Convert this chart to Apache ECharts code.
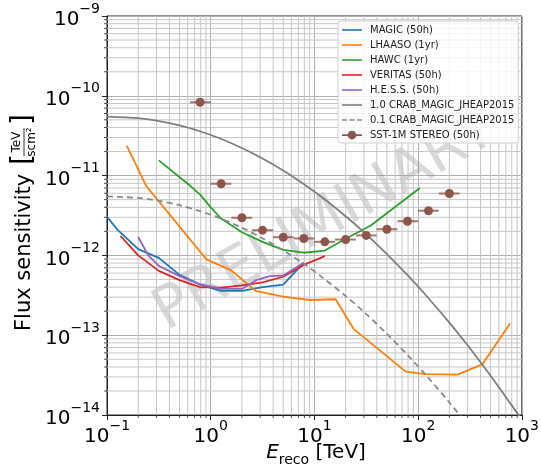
<!DOCTYPE html>
<html>
<head>
<meta charset="utf-8">
<script src="https://cdn.jsdelivr.net/npm/echarts@6/dist/echarts.min.js"></script>
<style>
  html, body { margin: 0; padding: 0; background: #fff; }
  #chart { width: 542px; height: 465px; }
</style>
</head>
<body>
<div id="chart"></div>
<script>
var FONT = 'DejaVu Sans';

// E [TeV] and flux sensitivity [TeV s^-1 cm^-2]
var magicE = [0.1, 0.126, 0.2, 0.316, 0.5, 0.79, 1.26, 2.0, 3.16, 5.0, 7.9];
var magicF = [3.05e-12, 2.1e-12, 1.2e-12, 9.3e-13, 5.7e-13, 4.3e-13, 3.6e-13, 3.6e-13, 4.0e-13, 4.3e-13, 8.1e-13];

var lhaasoE = [0.155, 0.24, 0.91, 1.58, 2.7, 5.0, 9.0, 16, 24, 76, 118, 240, 415, 770];
var lhaasoF = [2.37e-11, 7.35e-12, 8.9e-13, 6.5e-13, 3.6e-13, 3.05e-13, 2.76e-13, 2.82e-13, 1.19e-13, 3.5e-14, 3.25e-14, 3.2e-14, 4.3e-14, 1.4e-13];

var hawcE = [0.316, 0.63, 0.8, 1.0, 1.26, 2.0, 3.16, 5.0, 7.9, 12.6, 20, 35, 104];
var hawcF = [1.55e-11, 7.5e-12, 5.7e-12, 4.0e-12, 2.9e-12, 1.95e-12, 1.48e-12, 1.17e-12, 1.08e-12, 1.15e-12, 1.62e-12, 2.37e-12, 7.0e-12];

var veritasE = [0.135, 0.2, 0.316, 0.5, 0.79, 1.26, 2.0, 3.16, 5.0, 7.9, 12.6];
var veritasF = [1.75e-12, 1.0e-12, 6.4e-13, 4.9e-13, 4.0e-13, 3.95e-13, 4.2e-13, 4.6e-13, 5.4e-13, 7.6e-13, 9.8e-13];

var hessE = [0.2, 0.25, 0.316, 0.5, 0.79, 1.26, 2.0, 2.75, 3.7, 5.0, 7.9];
var hessF = [1.7e-12, 1.0e-12, 7.4e-13, 5.5e-13, 4.35e-13, 3.8e-13, 3.8e-13, 4.9e-13, 5.5e-13, 5.6e-13, 8.1e-13];

var crabE = [0.1, 0.2, 0.3, 0.5, 0.8, 1.2, 2, 3, 5, 8, 12, 20, 30, 50, 80, 120, 200, 300, 500, 800, 1000];
var crabF = [5.49e-11, 5.25e-11, 4.89e-11, 4.26e-11, 3.57e-11, 2.96e-11, 2.22e-11, 1.70e-11, 1.16e-11, 7.75e-12, 5.27e-12,
             3.1e-12, 1.96e-12, 1.04e-12, 5.56e-13, 3.12e-13, 1.44e-13, 7.47e-14, 3.1e-14, 1.32e-14, 8.7e-15];
var crab01F = [5.49e-12, 5.25e-12, 4.89e-12, 4.26e-12, 3.57e-12, 2.96e-12, 2.22e-12, 1.70e-12, 1.16e-12, 7.75e-13, 5.27e-13,
               3.1e-13, 1.96e-13, 1.04e-13, 5.56e-14, 3.12e-14, 1.44e-14, 7.47e-15, 3.1e-15, 1.32e-15, 8.7e-16];

// SST-1M stereo: bin centre, bin edges, flux
var sstE  = [0.79, 1.26, 2.0, 3.16, 5.0, 7.9, 12.6, 20, 31.6, 50, 79, 126, 200];
var sstLo = [0.63, 1.0, 1.58, 2.51, 3.98, 6.31, 10, 15.8, 25.1, 39.8, 63.1, 100, 158];
var sstHi = [1.0, 1.58, 2.51, 3.98, 6.31, 10, 15.8, 25.1, 39.8, 63.1, 100, 158, 251];
var sstF  = [8.3e-11, 7.9e-12, 2.96e-12, 2.07e-12, 1.69e-12, 1.63e-12, 1.48e-12, 1.58e-12, 1.78e-12, 2.13e-12, 2.68e-12, 3.63e-12, 5.96e-12];

var names = ['MAGIC (50h)', 'LHAASO (1yr)', 'HAWC (1yr)', 'VERITAS (50h)', 'H.E.S.S. (50h)',
             '1.0 CRAB_MAGIC_JHEAP2015', '0.1 CRAB_MAGIC_JHEAP2015', 'SST-1M STEREO (50h)'];

var X_MIN = 0.1, X_MAX = 1000, Y_MIN = 1e-14, Y_MAX = 1e-9;

function pairs(xs, ys) {
    return xs.map(function(x, i) { return [x, ys[i]]; });
}

// "10^n" tick labels
function powLabel(v) {
    var e = Math.round(Math.log10(v));
    return '{b|10}{s|' + (e < 0 ? '\u2212' + (-e) : e) + '}';
}
var powRich = {
    b: { fontSize: 20, fontFamily: FONT, color: '#000', lineHeight: 28, verticalAlign: 'bottom' },
    s: { fontSize: 14, fontFamily: FONT, color: '#000', lineHeight: 16, verticalAlign: 'top' }
};

// minor grid positions 2..9 x 10^n ; [x, y, kind] kind 0 = vertical, 1 = horizontal
function minorGrid() {
    var out = [], d, k;
    for (d = -1; d <= 2; d++)
        for (k = 2; k <= 9; k++) out.push([k * Math.pow(10, d), 1e-12, 0]);
    for (d = -14; d <= -10; d++)
        for (k = 2; k <= 9; k++) out.push([1, k * Math.pow(10, d), 1]);
    return out;
}

function lineSeries(name, xs, ys, color, dashed, smooth) {
    return {
        name: name, type: 'line', data: pairs(xs, ys),
        symbol: 'none', showSymbol: false, symbolSize: 0, z: 4,
        smooth: smooth ? 0.3 : false,
        lineStyle: { color: color, width: 1.8, type: dashed ? [6, 4] : 'solid' },
        itemStyle: { color: color }
    };
}

var myChart = echarts.init(document.getElementById('chart'), null, { renderer: 'canvas' });

var lineIcon = 'path://M0,4.2 L20,4.2 L20,5.8 L0,5.8 Z';
var dashIcon = 'path://M0,4.2 L5,4.2 L5,5.8 L0,5.8 Z M7.5,4.2 L12.5,4.2 L12.5,5.8 L7.5,5.8 Z M15,4.2 L20,4.2 L20,5.8 L15,5.8 Z';
var sstIcon = 'path://M2,4.3 L18,4.3 L18,5.7 L2,5.7 Z M6.5,5 A3.5,3.5 0 1 1 13.5,5 A3.5,3.5 0 1 1 6.5,5 Z';

var option = {
    animation: false,
    backgroundColor: '#fff',
    grid: { left: 107, right: 19, top: 16, bottom: 50, show: true, borderColor: '#222', borderWidth: 1 },
    xAxis: {
        type: 'log', logBase: 10, min: X_MIN, max: X_MAX,
        axisLine: { show: true, lineStyle: { color: '#222' } },
        axisTick: { show: true, length: 5, lineStyle: { color: '#222' } },
        axisLabel: { formatter: powLabel, rich: powRich, margin: 4 },
        splitLine: { show: true, lineStyle: { color: '#b0b0b0', width: 1 } }
    },
    yAxis: {
        type: 'log', logBase: 10, min: Y_MIN, max: Y_MAX,
        axisLine: { show: true, lineStyle: { color: '#222' } },
        axisTick: { show: true, length: 5, lineStyle: { color: '#222' } },
        axisLabel: { formatter: powLabel, rich: powRich, margin: 7 },
        splitLine: { show: true, lineStyle: { color: '#b0b0b0', width: 1 } }
    },
    legend: {
        orient: 'vertical', left: 338, top: 21,
        padding: [4, 4, 3, 4], itemGap: 5, itemWidth: 20, itemHeight: 10,
        backgroundColor: 'rgba(255,255,255,0.8)', borderColor: '#d0d0d0', borderWidth: 1, borderRadius: 3,
        textStyle: { fontFamily: FONT, fontSize: 10, color: '#222', padding: [0, 0, 0, 3] },
        data: names.map(function(n, i) {
            return { name: n, icon: i === 7 ? sstIcon : (i === 6 ? dashIcon : lineIcon) };
        }),
        z: 10
    },
    graphic: [
        {
            type: 'text', x: 325, y: 222, rotation: 30 * Math.PI / 180, z: 1, silent: true,
            style: { text: 'PRELIMINARY', fontSize: 58, fontFamily: FONT, fill: 'rgba(128,128,128,0.3)',
                     align: 'center', verticalAlign: 'middle' }
        },
        {
            type: 'text', x: 316, y: 455, z: 5,
            style: {
                text: '{e|E}{r|reco}{t| [TeV]}',
                align: 'center', verticalAlign: 'middle',
                rich: {
                    e: { fontSize: 20, fontFamily: FONT, fontStyle: 'italic', color: '#000', lineHeight: 24, verticalAlign: 'top' },
                    r: { fontSize: 14, fontFamily: FONT, color: '#000', lineHeight: 16, verticalAlign: 'bottom' },
                    t: { fontSize: 20, fontFamily: FONT, color: '#000', lineHeight: 24, verticalAlign: 'top' }
                }
            }
        },
        {
            type: 'group', x: 25, y: 331, rotation: Math.PI / 2, z: 5,
            children: [
                { type: 'text', x: 0, y: 0, style: { text: 'Flux sensitivity', fontSize: 21, fontFamily: FONT, fill: '#000', align: 'left', verticalAlign: 'middle' } },
                { type: 'text', x: 166, y: -1, style: { text: '[', fontSize: 28, fontFamily: FONT, fill: '#000', align: 'left', verticalAlign: 'middle' } },
                { type: 'text', x: 189, y: -8, style: { text: 'TeV', fontSize: 12, fontFamily: FONT, fill: '#000', align: 'center', verticalAlign: 'middle' } },
                { type: 'line', shape: { x1: 175, y1: -1, x2: 203, y2: -1 }, style: { stroke: '#000', lineWidth: 0.8 } },
                { type: 'text', x: 189, y: 7, style: { text: 'scm\u00b2', fontSize: 12, fontFamily: FONT, fill: '#000', align: 'center', verticalAlign: 'middle' } },
                { type: 'text', x: 206, y: -1, style: { text: ']', fontSize: 28, fontFamily: FONT, fill: '#000', align: 'left', verticalAlign: 'middle' } }
            ]
        }
    ],
    series: [
        {
            // minor grid lines + minor ticks
            name: 'grid-minor', type: 'custom', z: 1, silent: true,
            data: minorGrid(),
            encode: { x: 0, y: 1 },
            renderItem: function(params, api) {
                var kind = api.value(2), a, b, t;
                if (kind === 0) {
                    a = api.coord([api.value(0), Y_MIN]);
                    b = api.coord([api.value(0), Y_MAX]);
                    t = { x1: a[0], y1: a[1], x2: a[0], y2: a[1] + 3 };
                } else {
                    a = api.coord([X_MIN, api.value(1)]);
                    b = api.coord([X_MAX, api.value(1)]);
                    t = { x1: a[0], y1: a[1], x2: a[0] - 3, y2: a[1] };
                }
                return {
                    type: 'group',
                    children: [
                        { type: 'line', shape: { x1: a[0], y1: a[1], x2: b[0], y2: b[1] },
                          style: { stroke: '#c6c6c6', lineWidth: 1 } },
                        { type: 'line', shape: t, style: { stroke: '#222', lineWidth: 0.8 } }
                    ]
                };
            }
        },
        lineSeries(names[0], magicE, magicF, '#1f77b4'),
        lineSeries(names[1], lhaasoE, lhaasoF, '#ff7f0e'),
        lineSeries(names[2], hawcE, hawcF, '#2ca02c'),
        lineSeries(names[3], veritasE, veritasF, '#d62728'),
        lineSeries(names[4], hessE, hessF, '#9467bd'),
        lineSeries(names[5], crabE, crabF, '#7f7f7f', false, true),
        lineSeries(names[6], crabE, crab01F, '#8a8a8a', true, true),
        {
            name: 'sst-xerr', type: 'custom', z: 5, silent: true,
            data: sstE.map(function(e, i) { return [sstLo[i], sstHi[i], sstF[i]]; }),
            encode: { x: [0, 1], y: 2 },
            renderItem: function(params, api) {
                var p1 = api.coord([api.value(0), api.value(2)]);
                var p2 = api.coord([api.value(1), api.value(2)]);
                return {
                    type: 'line',
                    shape: { x1: p1[0], y1: p1[1], x2: p2[0], y2: p2[1] },
                    style: { stroke: 'rgba(140,86,75,0.8)', lineWidth: 2 }
                };
            }
        },
        {
            name: names[7], type: 'scatter', z: 6,
            data: pairs(sstE, sstF),
            symbol: 'circle', symbolSize: 9,
            itemStyle: { color: '#8c564b', opacity: 1 }
        }
    ]
};

myChart.setOption(option);
</script>
</body>
</html>
